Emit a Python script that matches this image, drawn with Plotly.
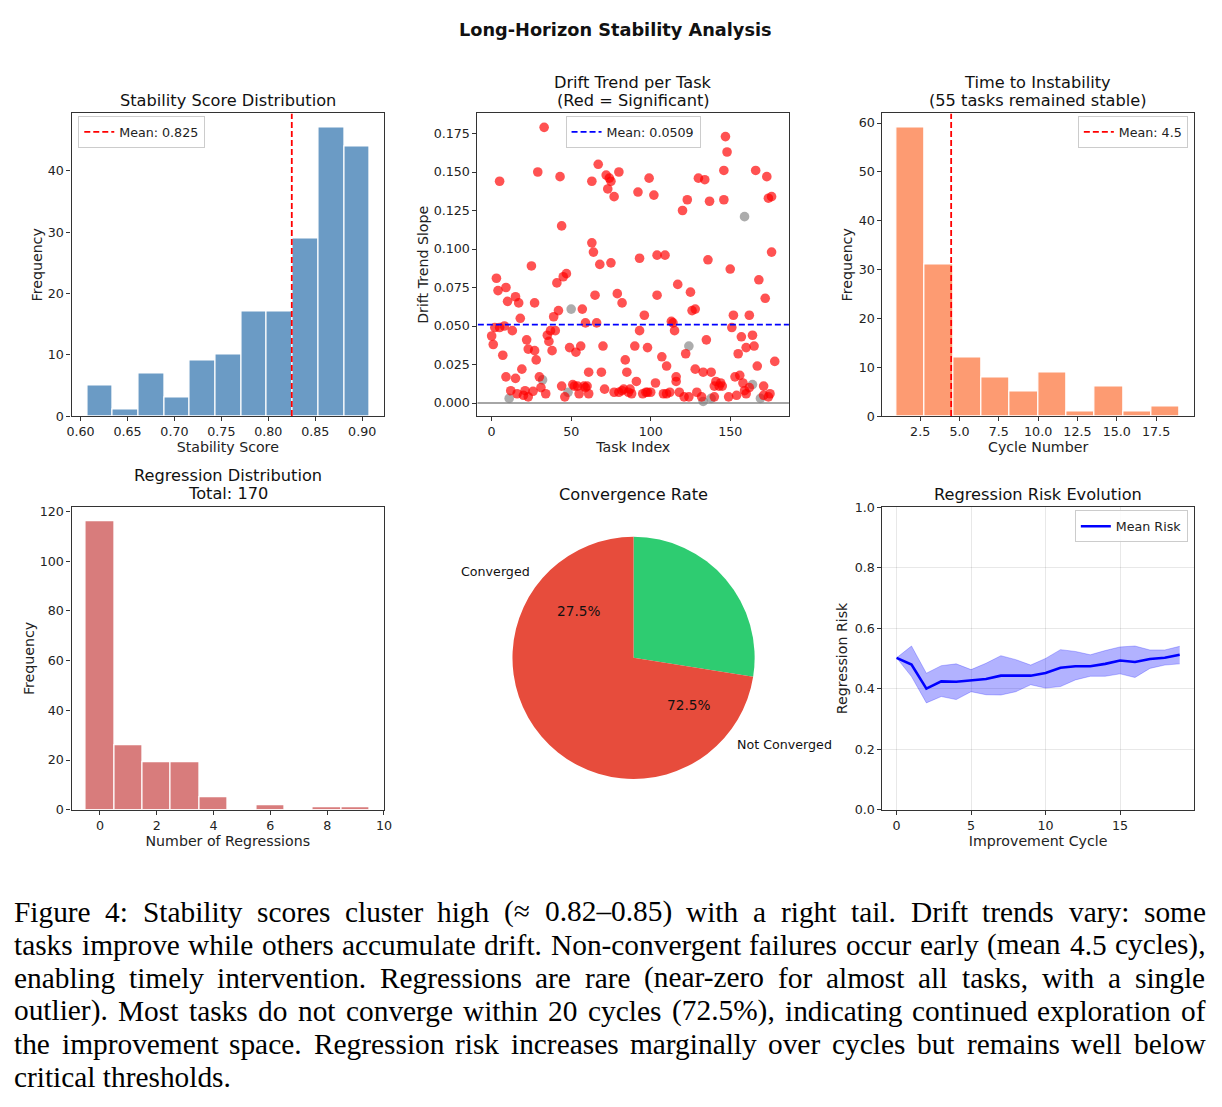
import math
import plotly.graph_objects as go

# The captured page is uniformly shrunk (~1222/1238) and includes the 8px body margin,
# so reference-pixel positions are converted into figure positions accordingly.
W, H = 1222, 1107
MARGIN = 8
SX, SY = 1222 / 1238, 1107 / 1123
K = 1 / SX  # pixel-size compensation

# ---------------- data ----------------
stab_edges = [0.607, 0.634, 0.662, 0.689, 0.716, 0.744, 0.771, 0.798, 0.826, 0.853, 0.881, 0.908]
stab_counts = [5, 1, 7, 3, 9, 10, 17, 17, 29, 47, 44]
stab_mean = 0.825

red_x = [0, 1, 2, 3, 4, 5, 5, 7, 8, 9, 9, 10, 12, 13, 15, 15, 16, 17, 18, 19, 20, 21, 22, 23, 23,
         25, 26, 27, 27, 28, 29, 30, 31, 33, 34, 35, 36, 37, 38, 39, 40, 41, 42, 43, 44, 44, 45, 46,
         47, 49, 51, 52, 53, 54, 55, 56, 57, 58, 59, 59, 60, 61, 61, 63, 63, 64, 65, 66, 67, 68, 69,
         70, 71, 72, 73, 74, 75, 75, 77, 79, 80, 82, 77, 80, 82, 83, 84, 85, 86, 87, 88, 90, 91, 92,
         93, 93, 95, 96, 97, 98, 99, 98, 100, 102, 103, 104, 104, 107, 108, 109, 110, 110, 112, 113,
         114, 115, 116, 116, 117, 118, 120, 121, 122, 123, 124, 125, 126, 128, 128, 129, 130, 132,
         133, 134, 135, 136, 137, 138, 140, 140, 141, 143, 144, 145, 146, 146, 147, 148, 149, 150,
         151, 152, 153, 154, 155, 156, 157, 158, 159, 160, 160, 162, 162, 164, 165, 166, 167, 168,
         171, 172, 173, 174, 176, 176, 178, 171, 174, 175]
red_y = [0.0435, 0.038, 0.049, 0.081, 0.073, 0.144, 0.049, 0.031, 0.050, 0.075, 0.017, 0.066, 0.008,
         0.047, 0.069, 0.016, 0.006, 0.065, 0.055, 0.022, 0.005, 0.008, 0.041, 0.035, 0.004, 0.089,
         0.0076, 0.065, 0.034, 0.028, 0.150, 0.017, 0.010, 0.179, 0.006, 0.044, 0.040, 0.047, 0.034,
         0.056, 0.047, 0.078, 0.060, 0.147, 0.011, 0.115, 0.082, 0.004, 0.084, 0.036, 0.012, 0.011,
         0.033, 0.011, 0.006, 0.037, 0.061, 0.011, 0.052, 0.010, 0.011, 0.006, 0.020, 0.144, 0.104,
         0.098, 0.070, 0.052, 0.155, 0.090, 0.020, 0.037, 0.009, 0.148, 0.139, 0.146, 0.144, 0.091,
         0.134, 0.071, 0.150, 0.065, 0.007, 0.007, 0.008, 0.009, 0.028, 0.020, 0.007, 0.009, 0.006,
         0.037, 0.014, 0.137, 0.094, 0.047, 0.006, 0.057, 0.007, 0.007, 0.146, 0.036, 0.007, 0.135,
         0.013, 0.096, 0.070, 0.030, 0.006, 0.096, 0.024, 0.006, 0.007, 0.053, 0.052, 0.047, 0.017,
         0.014, 0.077, 0.007, 0.125, 0.004, 0.032, 0.132, 0.004, 0.072, 0.060, 0.061, 0.022, 0.007,
         0.146, 0.004, 0.020, 0.145, 0.041, 0.093, 0.131, 0.020, 0.004, 0.011, 0.014, 0.011, 0.013,
         0.011, 0.132, 0.151, 0.173, 0.163, 0.004, 0.087, 0.049, 0.057, 0.017, 0.005, 0.032, 0.018,
         0.043, 0.013, 0.008, 0.036, 0.006, 0.057, 0.010, 0.044, 0.037, 0.151, 0.024, 0.080, 0.011,
         0.068, 0.147, 0.133, 0.134, 0.098, 0.027, 0.005, 0.004, 0.006]
grey_x = [11, 32, 48, 50, 124, 133, 138, 159, 164, 169]
grey_y = [0.003, 0.015, 0.007, 0.061, 0.037, 0.001, 0.003, 0.121, 0.012, 0.003]
drift_mean = 0.0509

cycle_edges = [1.0, 2.8, 4.6, 6.4, 8.2, 10.0, 11.8, 13.6, 15.4, 17.2, 19.0]
cycle_counts = [59, 31, 12, 8, 5, 9, 1, 6, 1, 2]
cycle_mean = 4.47
stable_tasks = 55

reg_values = [0, 1, 2, 3, 4, 5, 6, 7, 8, 9]
reg_counts = [116, 26, 19, 19, 5, 0, 2, 0, 1, 1]
reg_total = 170

pie_labels = ["Converged", "Not Converged"]
pie_values = [27.5, 72.5]
pie_colors = ["#2ecc71", "#e74c3c"]

cycles = list(range(20))
risk_mean = [0.502, 0.480, 0.400, 0.424, 0.423, 0.427, 0.432, 0.443, 0.443, 0.443,
             0.452, 0.469, 0.474, 0.474, 0.482, 0.493, 0.488, 0.498, 0.502, 0.512]
risk_upper = [0.502, 0.541, 0.451, 0.476, 0.482, 0.463, 0.484, 0.509, 0.496, 0.478,
              0.500, 0.529, 0.523, 0.512, 0.526, 0.538, 0.541, 0.528, 0.528, 0.540]
risk_lower = [0.502, 0.440, 0.353, 0.374, 0.364, 0.390, 0.380, 0.379, 0.390, 0.413,
              0.402, 0.407, 0.429, 0.441, 0.441, 0.449, 0.437, 0.467, 0.478, 0.482]

caption_lines = [
    "Figure 4: Stability scores cluster high (\u2248 0.82\u20130.85) with a right tail. Drift trends vary: some",
    "tasks improve while others accumulate drift. Non-convergent failures occur early (mean 4.5 cycles),",
    "enabling timely intervention. Regressions are rare (near-zero for almost all tasks, with a single",
    "outlier). Most tasks do not converge within 20 cycles (72.5%), indicating continued exploration of",
    "the improvement space. Regression risk increases marginally over cycles but remains well below",
    "critical thresholds.",
]

# ---------------- helpers ----------------
FONT = "DejaVu Sans"
AX = "#333333"
TICK = 12.5 * K
LAB = 14 * K
TTL = 16 * K


def px_x(p):
    return (p / SX - MARGIN) / W


def px_y(p):
    return 1 - (p / SY - MARGIN) / H


def hist_bars(edges, counts):
    centers = [(edges[i] + edges[i + 1]) / 2 for i in range(len(counts))]
    widths = [edges[i + 1] - edges[i] for i in range(len(counts))]
    return centers, widths


fig = go.Figure()

# Panel 1: stability
c, w = hist_bars(stab_edges, stab_counts)
fig.add_trace(go.Bar(x=c, y=stab_counts, width=w, marker=dict(color="#6b9bc5", line=dict(color="white", width=1.2)),
                     showlegend=False, xaxis="x", yaxis="y"))
fig.add_trace(go.Scatter(x=[stab_mean, stab_mean], y=[0, 49.35], mode="lines",
                         line=dict(color="red", dash="6px,3px", width=1.8), name=f"Mean: {stab_mean:.3f}",
                         legend="legend", xaxis="x", yaxis="y"))

# Panel 2: drift scatter
fig.add_trace(go.Scatter(x=[-20, 200], y=[0, 0], mode="lines", line=dict(color="#222", width=1.2),
                         opacity=0.8, showlegend=False, xaxis="x2", yaxis="y2"))
fig.add_trace(go.Scatter(x=grey_x, y=grey_y, mode="markers", marker=dict(color="gray", size=9.5 * K, opacity=0.65),
                         showlegend=False, xaxis="x2", yaxis="y2"))
fig.add_trace(go.Scatter(x=red_x, y=red_y, mode="markers", marker=dict(color="red", size=9.5 * K, opacity=0.68),
                         showlegend=False, xaxis="x2", yaxis="y2"))
fig.add_trace(go.Scatter(x=[-20, 200], y=[drift_mean, drift_mean], mode="lines",
                         line=dict(color="blue", dash="6px,3px", width=1.8), name=f"Mean: {drift_mean:.4f}",
                         legend="legend2", xaxis="x2", yaxis="y2"))

# Panel 3: time to instability
c, w = hist_bars(cycle_edges, cycle_counts)
fig.add_trace(go.Bar(x=c, y=cycle_counts, width=w, marker=dict(color="#fd9b72", line=dict(color="white", width=1.2)),
                     showlegend=False, xaxis="x3", yaxis="y3"))
fig.add_trace(go.Scatter(x=[cycle_mean, cycle_mean], y=[0, 61.95], mode="lines",
                         line=dict(color="red", dash="6px,3px", width=1.8), name=f"Mean: {cycle_mean:.1f}",
                         legend="legend3", xaxis="x3", yaxis="y3"))

# Panel 4: regressions
fig.add_trace(go.Bar(x=reg_values, y=reg_counts, width=1, marker=dict(color="#d87c7c", line=dict(color="white", width=1.2)),
                     showlegend=False, xaxis="x4", yaxis="y4"))

# Panel 5: pie
PC_X, PC_Y, PR = 635, 657.3, 121
fig.add_trace(go.Pie(labels=pie_labels, values=pie_values, marker=dict(colors=pie_colors),
                     sort=False, direction="clockwise", rotation=0, textinfo="none",
                     hoverinfo="label+percent", showlegend=False,
                     domain=dict(x=[px_x(PC_X - PR), px_x(PC_X + PR)], y=[px_y(PC_Y + PR), px_y(PC_Y - PR)])))

# Panel 6: regression risk
fig.add_trace(go.Scatter(x=cycles, y=risk_lower, mode="lines", line=dict(color="rgba(0,0,255,0.3)", width=0.8),
                         showlegend=False, xaxis="x5", yaxis="y5"))
fig.add_trace(go.Scatter(x=cycles, y=risk_upper, mode="lines", line=dict(color="rgba(0,0,255,0.3)", width=0.8),
                         fill="tonexty", fillcolor="rgba(0,0,255,0.3)", showlegend=False, xaxis="x5", yaxis="y5"))
fig.add_trace(go.Scatter(x=cycles, y=risk_mean, mode="lines", line=dict(color="blue", width=2.6),
                         name="Mean Risk", legend="legend4", xaxis="x5", yaxis="y5"))


def axis(dom, rng, tickvals, fmt, title, standoff, grid=False, anchor=None):
    return dict(domain=dom, range=rng, tickvals=tickvals, tickformat=fmt, anchor=anchor,
                showline=True, mirror=True, linecolor=AX, linewidth=1.2,
                ticks="outside", ticklen=4, tickwidth=1, tickcolor=AX,
                tickfont=dict(size=TICK, color="#222", family=FONT),
                title=dict(text=title, font=dict(size=LAB, color="#222", family=FONT), standoff=standoff),
                showgrid=grid, gridcolor="rgba(0,0,0,0.09)", gridwidth=1, zeroline=False, fixedrange=True)


top_y = [px_y(415.7), px_y(113.3)]
bot_y = [px_y(809), px_y(506.7)]
c1 = [px_x(74.3), px_x(386)]
c2 = [px_x(479.3), px_x(790)]
c3 = [px_x(883.3), px_x(1194)]

fig.update_layout(
    width=W, height=H, margin=dict(l=0, r=0, t=0, b=0),
    paper_bgcolor="white", plot_bgcolor="white",
    font=dict(family=FONT, color="#222"),
    bargap=0,
    xaxis=axis(c1, [0.5904, 0.9232], [0.60, 0.65, 0.70, 0.75, 0.80, 0.85, 0.90], ".2f", "Stability Score", 3, anchor="y"),
    yaxis=axis(top_y, [0, 49.35], [0, 10, 20, 30, 40], "d", "Frequency", 1, anchor="x"),
    xaxis2=axis(c2, [-8.9, 186.9], [0, 50, 100, 150], "d", "Task Index", 3, anchor="y2"),
    yaxis2=axis(top_y, [-0.0085, 0.188], [0, 0.025, 0.05, 0.075, 0.1, 0.125, 0.15, 0.175], ".3f", "Drift Trend Slope", 1, anchor="x2"),
    xaxis3=axis(c3, [0.1, 19.9], [2.5, 5, 7.5, 10, 12.5, 15, 17.5], ".1f", "Cycle Number", 3, anchor="y3"),
    yaxis3=axis(top_y, [0, 61.95], [0, 10, 20, 30, 40, 50, 60], "d", "Frequency", 2, anchor="x3"),
    xaxis4=axis(c1, [-1, 10], [0, 2, 4, 6, 8, 10], "d", "Number of Regressions", 3, anchor="y4"),
    yaxis4=axis(bot_y, [0, 121.8], [0, 20, 40, 60, 80, 100, 120], "d", "Frequency", 1, anchor="x4"),
    xaxis5=axis(c3, [-0.95, 19.95], [0, 5, 10, 15], "d", "Improvement Cycle", 3, grid=True, anchor="y5"),
    yaxis5=axis(bot_y, [0, 1], [0, 0.2, 0.4, 0.6, 0.8, 1.0], ".1f", "Regression Risk", 3, grid=True, anchor="x5"),
)

leg_common = dict(bgcolor="rgba(255,255,255,0.85)", bordercolor="#cccccc", borderwidth=1,
                  font=dict(size=12.5 * K, family=FONT, color="#222"), itemwidth=30,
                  yanchor="top", tracegroupgap=0)
fig.update_layout(
    legend=dict(x=px_x(81), y=px_y(116), xanchor="left", **leg_common),
    legend2=dict(x=px_x(634.5), y=px_y(116), xanchor="center", **leg_common),
    legend3=dict(x=px_x(1188), y=px_y(116), xanchor="right", **leg_common),
    legend4=dict(x=px_x(1188), y=px_y(510), xanchor="right", **leg_common),
)

ann = []


def text(x, y, s, size, xanchor="center", bold=False, family=FONT, color="#111"):
    ann.append(dict(x=px_x(x), y=px_y(y), xref="paper", yref="paper", text=(f"<b>{s}</b>" if bold else s),
                    showarrow=False, xanchor=xanchor, yanchor="middle",
                    font=dict(size=size, family=family, color=color)))


text(617, 30, "Long-Horizon Stability Analysis", 17.5 * K, bold=True)
text(230, 100, "Stability Score Distribution", TTL)
text(634.5, 82, "Drift Trend per Task", TTL)
text(634.5, 100, "(Red = Significant)", TTL)
text(1038.5, 82, "Time to Instability", TTL)
text(1038.5, 100, f"({stable_tasks} tasks remained stable)", TTL)
text(230, 475, "Regression Distribution", TTL)
text(230, 493, f"Total: {reg_total}", TTL)
text(634.5, 494, "Convergence Rate", TTL)
text(1038.5, 494, "Regression Risk Evolution", TTL)

# pie labels, placed from slice angles (matplotlib-like: start 90deg, counterclockwise)
tot = sum(pie_values)
start = 90.0
for lab, v in zip(pie_labels, pie_values):
    span = 360.0 * v / tot
    mid = math.radians(start + span / 2)
    start += span
    cx, cy = math.cos(mid), math.sin(mid)
    text(PC_X + 0.6 * PR * cx, PC_Y - 0.6 * PR * cy, f"{100 * v / tot:.1f}%", 13.5 * K)
    text(PC_X + 1.1 * PR * cx, PC_Y - 1.1 * PR * cy, lab, 12.5 * K, xanchor=("right" if cx < 0 else "left"))

# caption: justified text using Times metrics (Liberation Serif is metric-compatible)
TW = {" ": 250, "!": 333, "(": 333, ")": 333, ",": 250, "-": 333, ".": 250, ":": 278, "%": 833,
      "\u2248": 549, "\u2013": 500,
      "A": 722, "B": 667, "C": 667, "D": 722, "E": 611, "F": 556, "G": 722, "H": 722, "I": 333,
      "J": 389, "K": 722, "L": 611, "M": 889, "N": 722, "O": 722, "P": 556, "Q": 722, "R": 667,
      "S": 556, "T": 611, "U": 722, "V": 722, "W": 944, "X": 722, "Y": 722, "Z": 611,
      "a": 444, "b": 500, "c": 444, "d": 500, "e": 444, "f": 333, "g": 500, "h": 500, "i": 278,
      "j": 278, "k": 500, "l": 278, "m": 778, "n": 500, "o": 500, "p": 500, "q": 500, "r": 333,
      "s": 389, "t": 278, "u": 500, "v": 500, "w": 722, "x": 500, "y": 500, "z": 444}
CAP = 29  # size in reference pixels
CAP_L, CAP_R = 15, 1203


def tw(s):
    return sum(TW.get(ch, 500) for ch in s) * CAP / 1000.0


for i, line in enumerate(caption_lines):
    yy = 911 + 33 * i
    words = line.split(" ")
    if i == len(caption_lines) - 1:
        text(CAP_L, yy, line, CAP * K, xanchor="left", family="Liberation Serif", color="black")
        continue
    widths = [tw(wd) for wd in words]
    gap = (CAP_R - CAP_L - sum(widths)) / (len(words) - 1)
    x = CAP_L
    for wd, wdw in zip(words, widths):
        text(x, yy, wd, CAP * K, xanchor="left", family="Liberation Serif", color="black")
        x += wdw + gap

fig.update_layout(annotations=ann)
fig.write_html("out.html")
